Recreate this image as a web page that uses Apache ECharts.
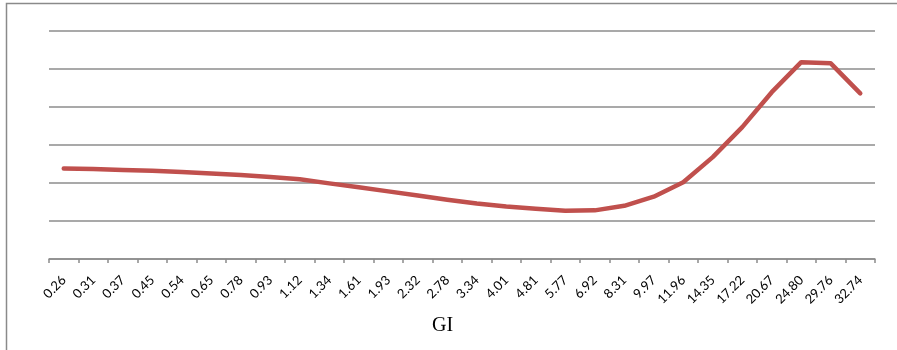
<!DOCTYPE html>
<html>
<head>
<meta charset="utf-8">
<script src="https://cdn.jsdelivr.net/npm/echarts@6/dist/echarts.min.js"></script>
<style>
html,body{margin:0;padding:0;background:#fff;}
#c{width:897px;height:350px;}
</style>
</head>
<body>
<div id="c"></div>
<script>
var categories = ['0.26','0.31','0.37','0.45','0.54','0.65','0.78','0.93','1.12','1.34','1.61','1.93','2.32','2.78','3.34','4.01','4.81','5.77','6.92','8.31','9.97','11.96','14.35','17.22','20.67','24.80','29.76','32.74'];
var values = [2.38,2.37,2.34,2.32,2.29,2.25,2.21,2.16,2.10,1.99,1.89,1.78,1.67,1.56,1.46,1.38,1.32,1.27,1.28,1.40,1.64,2.02,2.68,3.47,4.39,5.18,5.15,4.36];
var yTicks = [0,1,2,3,4,5,6];
var xTitle = 'GI';

var chart = echarts.init(document.getElementById('c'), null, {renderer:'canvas'});
chart.setOption({
  animation:false,
  backgroundColor:'#fff',
  graphic:[{
    type:'rect', silent:true, z:-1,
    shape:{x:6.5,y:3.5,width:1000,height:400},
    style:{fill:'none',stroke:'#8a8a8a',lineWidth:1.5}
  },{
    type:'text', silent:true,
    left:443-11, top:316,
    style:{text:xTitle,fontFamily:'Liberation Serif',fontSize:20,fill:'#000'}
  }],
  grid:{left:49,right:22,top:31,bottom:91,containLabel:false},
  xAxis:{
    type:'category',
    data:categories,
    boundaryGap:true,
    axisLine:{lineStyle:{color:'#8c8c8c',width:1.5}},
    axisTick:{show:true,length:4,alignWithLabel:false,lineStyle:{color:'#8c8c8c',width:1.5}},
    axisLabel:{rotate:45,interval:0,margin:19,fontFamily:'Lato',fontSize:13,color:'#000'},
    splitLine:{show:false}
  },
  yAxis:{
    type:'value',
    min:yTicks[0],max:yTicks[yTicks.length-1],interval:1,
    axisLine:{show:false},axisTick:{show:false},axisLabel:{show:false},
    splitLine:{show:true,lineStyle:{color:'#8c8c8c',width:1.5}}
  },
  series:[{
    type:'line',
    data:values,
    smooth:false,
    symbol:'none',
    lineStyle:{color:'#C0504D',width:4.5,cap:'round',join:'round'}
  }]
});
</script>
</body>
</html>
